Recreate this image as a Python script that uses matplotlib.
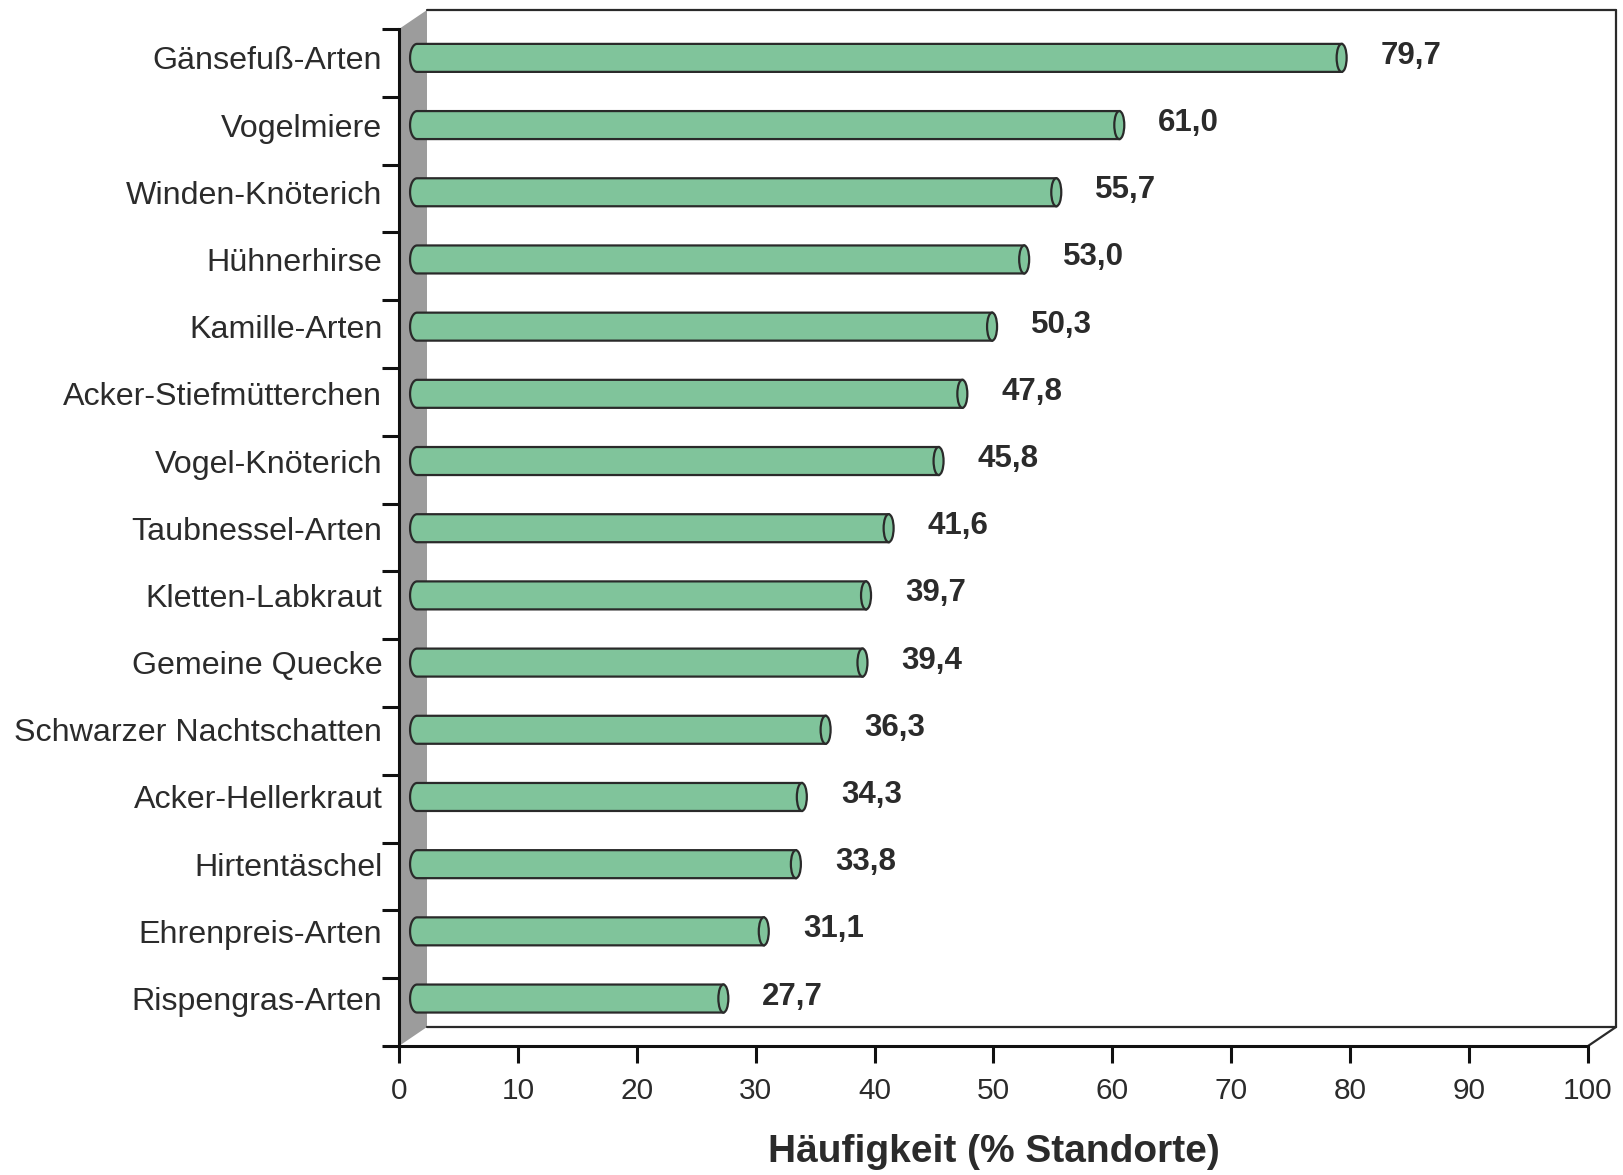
import matplotlib
matplotlib.use("Agg")
import matplotlib.pyplot as plt
import numpy as np
from matplotlib.patches import Polygon, Ellipse

plt.rcParams["font.family"] = ["Liberation Sans", "DejaVu Sans"]

species = [
    "Gänsefuß-Arten", "Vogelmiere", "Winden-Knöterich", "Hühnerhirse",
    "Kamille-Arten", "Acker-Stiefmütterchen", "Vogel-Knöterich",
    "Taubnessel-Arten", "Kletten-Labkraut", "Gemeine Quecke",
    "Schwarzer Nachtschatten", "Acker-Hellerkraut", "Hirtentäschel",
    "Ehrenpreis-Arten", "Rispengras-Arten",
]
frequency = [79.7, 61.0, 55.7, 53.0, 50.3, 47.8, 45.8, 41.6, 39.7, 39.4,
             36.3, 34.3, 33.8, 31.1, 27.7]
x_ticks = [0, 10, 20, 30, 40, 50, 60, 70, 80, 90, 100]
x_label = "Häufigkeit (% Standorte)"

W, H, DPI = 1624, 1175, 100
fig = plt.figure(figsize=(W / DPI, H / DPI), dpi=DPI)
ax_l, ax_r, ax_b, ax_t = 399, 1588, 1046, 29
ax = fig.add_axes([ax_l / W, (H - ax_b) / H, (ax_r - ax_l) / W, (ax_b - ax_t) / H])

n = len(species)
ax.set_xlim(0, 100)
ax.set_ylim(0, n)
px_x = (ax_r - ax_l) / 100.0
px_y = (ax_b - ax_t) / n

# depth of the pseudo-3D box
DX = 28 / px_x
DY = 19 / px_y
edge = "#2a2a2a"

side = Polygon([(0, 0), (DX, DY), (DX, n + DY), (0, n)], closed=True,
               facecolor="#9c9c9c", edgecolor="none", clip_on=False, zorder=1)
ax.add_patch(side)
wall_kw = dict(color=edge, lw=1.6, clip_on=False, zorder=1, solid_capstyle="round")
ax.plot([DX, 100 + DX], [n + DY, n + DY], **wall_kw)
ax.plot([100 + DX, 100 + DX], [n + DY, DY], **wall_kw)
ax.plot([DX, 100 + DX], [DY, DY], **wall_kw)
ax.plot([100 + DX, 100], [DY, 0], **wall_kw)

# cylinder bars, sitting slightly back from the front plane
green = "#80c49b"
hh = 14 / px_y
hl = 7 / px_x
hw = 5 / px_x
x0 = 0.93 + hl
pitch = 0.991
ys = 0.70 + np.arange(n)[::-1] * pitch
t = np.linspace(np.pi / 2, 3 * np.pi / 2, 30)
for y, v in zip(ys, frequency):
    xr = v - hw
    arc = np.column_stack([x0 + hl * np.cos(t), y + hh * np.sin(t)])
    pts = np.vstack([arc, [[xr, y - hh], [xr, y + hh]]])
    ax.add_patch(Polygon(pts, closed=True, facecolor=green, edgecolor=edge,
                         lw=1.6, zorder=3, clip_on=False))
    ax.add_patch(Ellipse((xr, y), 2 * hw, 2 * hh, facecolor=green,
                         edgecolor=edge, lw=1.6, zorder=4, clip_on=False))
    ax.text(v + 34 / px_x, y + 2 / px_y, f"{v:.1f}".replace(".", ","),
            fontsize=22.5, fontweight="bold", color="#2b2b2b",
            ha="left", va="center", zorder=5)

for s in ["top", "right"]:
    ax.spines[s].set_visible(False)
for s in ["left", "bottom"]:
    ax.spines[s].set_linewidth(2.2)
    ax.spines[s].set_color("#111111")
    ax.spines[s].set_zorder(6)

ax.set_xticks(x_ticks)
ax.set_xticklabels([str(v) for v in x_ticks])
ax.tick_params(axis="x", direction="out", length=12.5, width=2.2,
               labelsize=21.5, pad=10, color="#111111", labelcolor="#2b2b2b")

ax.set_yticks(ys)
ax.set_yticklabels(species)
ax.set_yticks(np.arange(n + 1), minor=True)
ax.tick_params(axis="y", which="major", length=0, pad=12,
               labelsize=23.2, labelcolor="#2b2b2b")
ax.tick_params(axis="y", which="minor", direction="out", length=12.5,
               width=2.2, color="#111111")

ax.set_xlabel(x_label, fontsize=28, fontweight="bold", color="#2b2b2b", labelpad=21)
ax.patch.set_visible(False)

fig.savefig("out.png", dpi=DPI)
plt.close(fig)
